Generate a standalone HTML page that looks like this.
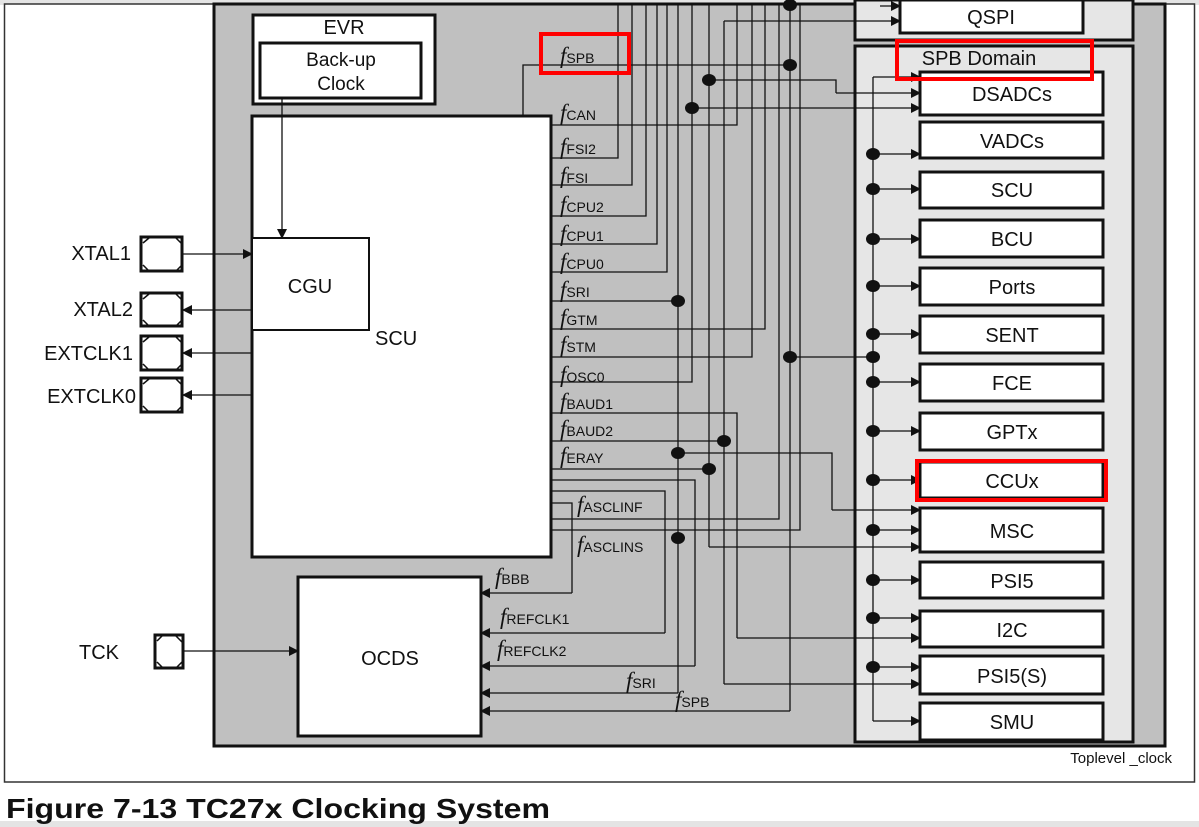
<!DOCTYPE html><html><head><meta charset="utf-8"><style>
html,body{margin:0;padding:0;background:#fff}
svg{display:block}
text{font-family:"Liberation Sans",sans-serif;fill:#111}
.f{font-family:"Liberation Serif",serif;font-style:italic;font-size:23px}
.s{font-size:14px}
</style></head><body>
<svg width="1199" height="827" viewBox="0 0 1199 827" xmlns="http://www.w3.org/2000/svg">
<defs><marker id="a" markerWidth="10" markerHeight="10" refX="9" refY="5" orient="auto" markerUnits="userSpaceOnUse"><path d="M0,0 L10,5 L0,10 z" fill="#111"/></marker></defs>
<rect x="0" y="0" width="1199" height="5" fill="#e4e4e4"/>
<rect x="0" y="821" width="1199" height="6" fill="#e4e4e4"/>
<rect x="4.5" y="4" width="1190" height="778" fill="#fff" stroke="#333" stroke-width="1.5"/>
<rect x="214" y="4" width="951" height="742" fill="#c0c0c0" stroke="#111" stroke-width="3"/>
<rect x="855" y="0" width="278" height="40" fill="#e6e6e6" stroke="#111" stroke-width="3"/>
<rect x="900" y="0" width="183" height="33" fill="#fff" stroke="#111" stroke-width="3"/>
<text x="991" y="24" font-size="20" text-anchor="middle">QSPI</text>
<rect x="855" y="46" width="278" height="696" fill="#e6e6e6" stroke="#111" stroke-width="3"/>
<text x="979" y="65" font-size="20" text-anchor="middle">SPB Domain</text>
<g stroke="#111" stroke-width="3" fill="#fff">
<rect x="920" y="72" width="183" height="43"/>
<rect x="920" y="122" width="183" height="36"/>
<rect x="920" y="172" width="183" height="36"/>
<rect x="920" y="220" width="183" height="37"/>
<rect x="920" y="268" width="183" height="37"/>
<rect x="920" y="316" width="183" height="37"/>
<rect x="920" y="364" width="183" height="37"/>
<rect x="920" y="413" width="183" height="37"/>
<rect x="920" y="462" width="183" height="36"/>
<rect x="920" y="508" width="183" height="44"/>
<rect x="920" y="562" width="183" height="36"/>
<rect x="920" y="611" width="183" height="36"/>
<rect x="920" y="656" width="183" height="38"/>
<rect x="920" y="703" width="183" height="37"/>
</g>
<g font-size="20" text-anchor="middle">
<text x="1012" y="101">DSADCs</text><text x="1012" y="148">VADCs</text><text x="1012" y="197">SCU</text>
<text x="1012" y="246">BCU</text><text x="1012" y="294">Ports</text><text x="1012" y="342">SENT</text>
<text x="1012" y="390">FCE</text><text x="1012" y="439">GPTx</text><text x="1012" y="488">CCUx</text>
<text x="1012" y="538">MSC</text><text x="1012" y="588">PSI5</text><text x="1012" y="637">I2C</text>
<text x="1012" y="683">PSI5(S)</text><text x="1012" y="729">SMU</text>
</g>
<rect x="253" y="15" width="182" height="89" fill="#fff" stroke="#111" stroke-width="3"/>
<text x="344" y="34" font-size="20" text-anchor="middle">EVR</text>
<rect x="260" y="43" width="161" height="55" fill="#fff" stroke="#111" stroke-width="3"/>
<text x="341" y="66" font-size="19" text-anchor="middle">Back-up</text>
<text x="341" y="90" font-size="19" text-anchor="middle">Clock</text>
<rect x="252" y="116" width="299" height="441" fill="#fff" stroke="#111" stroke-width="3"/>
<rect x="252" y="238" width="117" height="92" fill="#fff" stroke="#111" stroke-width="2"/>
<text x="310" y="293" font-size="20" text-anchor="middle">CGU</text>
<text x="375" y="345" font-size="20">SCU</text>
<rect x="298" y="577" width="183" height="159" fill="#fff" stroke="#111" stroke-width="3"/>
<text x="390" y="665" font-size="20" text-anchor="middle">OCDS</text>
<g stroke="#111" stroke-width="3" fill="#fff">
<rect x="141" y="237" width="41" height="34"/><rect x="141" y="293" width="41" height="33"/>
<rect x="141" y="336" width="41" height="34"/><rect x="141" y="378" width="41" height="34"/>
<rect x="155" y="635" width="28" height="33"/>
</g>
<g stroke="#111" stroke-width="1.5" fill="none">
<path d="M143 243l6-5 M176 238l6 6 M143 265l6 6 M176 271l6-6"/>
<path d="M143 299l6-5 M176 294l6 6 M143 320l6 6 M176 326l6-6"/>
<path d="M143 342l6-5 M176 337l6 6 M143 364l6 6 M176 370l6-6"/>
<path d="M143 384l6-5 M176 379l6 6 M143 406l6 6 M176 412l6-6"/>
<path d="M157 641l5-5 M176 636l6 6 M157 662l5 5 M176 668l6-6"/>
</g>
<g font-size="20" text-anchor="end">
<text x="131" y="260">XTAL1</text><text x="133" y="316">XTAL2</text><text x="133" y="360">EXTCLK1</text><text x="136" y="403">EXTCLK0</text><text x="119" y="659">TCK</text>
</g>
<g stroke="#111" stroke-width="1.3" fill="none">
<line x1="282" y1="98" x2="282" y2="238" marker-end="url(#a)"/>
<line x1="183" y1="254" x2="252" y2="254" marker-end="url(#a)"/>
<line x1="252" y1="310" x2="183" y2="310" marker-end="url(#a)"/>
<line x1="252" y1="353" x2="183" y2="353" marker-end="url(#a)"/>
<line x1="252" y1="395" x2="183" y2="395" marker-end="url(#a)"/>
<line x1="183" y1="651" x2="298" y2="651" marker-end="url(#a)"/>
<path d="M618 4V158H551 M632 4V185H551 M646 4V216H551 M657 4V244H551 M667 4V272H551 M678 4V693 M692 4V382H551 M709 4V547 M724 21V684 M737 4V125H551 M752 4V357H551 M765 4V329H551 M779 4V519H551 M790 4V711 M800 4V530H551"/>
<path d="M523 116V65H790 M709 80H836V93"/>
<path d="M551 301H678 M790 357H873 M551 413H737V638 M551 441H724 M678 453H832V510 M551 469H709"/>
<path d="M551 480H695V666 M551 491H665V633 M551 503H572V593"/>
<path d="M873 77V721"/>
</g>
<g stroke="#111" stroke-width="1.3" fill="none" marker-end="url(#a)">
<line x1="836" y1="93" x2="920" y2="93"/><line x1="692" y1="108" x2="920" y2="108"/>
<line x1="873" y1="77" x2="920" y2="77"/>
<line x1="724" y1="21" x2="900" y2="21"/><line x1="880" y1="6" x2="900" y2="6"/>
<line x1="832" y1="510" x2="920" y2="510"/><line x1="709" y1="547" x2="920" y2="547"/>
<line x1="737" y1="638" x2="920" y2="638"/><line x1="724" y1="684" x2="920" y2="684"/>
<line x1="873" y1="721" x2="920" y2="721"/>
<line x1="873" y1="154" x2="920" y2="154"/><line x1="873" y1="189" x2="920" y2="189"/>
<line x1="873" y1="239" x2="920" y2="239"/><line x1="873" y1="286" x2="920" y2="286"/>
<line x1="873" y1="334" x2="920" y2="334"/><line x1="873" y1="382" x2="920" y2="382"/>
<line x1="873" y1="431" x2="920" y2="431"/><line x1="873" y1="480" x2="920" y2="480"/>
<line x1="873" y1="530" x2="920" y2="530"/><line x1="873" y1="580" x2="920" y2="580"/>
<line x1="873" y1="618" x2="920" y2="618"/><line x1="873" y1="667" x2="920" y2="667"/>
<line x1="695" y1="666" x2="481" y2="666"/><line x1="665" y1="633" x2="481" y2="633"/>
<line x1="572" y1="593" x2="481" y2="593"/><line x1="678" y1="693" x2="481" y2="693"/>
<line x1="790" y1="711" x2="481" y2="711"/>
</g>
<g fill="#111">
<ellipse cx="790" cy="5" rx="7" ry="6"/><ellipse cx="790" cy="65" rx="7" ry="6"/>
<ellipse cx="709" cy="80" rx="7" ry="6"/><ellipse cx="692" cy="108" rx="7" ry="6"/>
<ellipse cx="678" cy="301" rx="7" ry="6"/><ellipse cx="790" cy="357" rx="7" ry="6"/>
<ellipse cx="724" cy="441" rx="7" ry="6"/><ellipse cx="678" cy="453" rx="7" ry="6"/>
<ellipse cx="709" cy="469" rx="7" ry="6"/><ellipse cx="678" cy="538" rx="7" ry="6"/>
<ellipse cx="873" cy="154" rx="7" ry="6"/><ellipse cx="873" cy="189" rx="7" ry="6"/>
<ellipse cx="873" cy="239" rx="7" ry="6"/><ellipse cx="873" cy="286" rx="7" ry="6"/>
<ellipse cx="873" cy="334" rx="7" ry="6"/><ellipse cx="873" cy="357" rx="7" ry="6"/>
<ellipse cx="873" cy="382" rx="7" ry="6"/><ellipse cx="873" cy="431" rx="7" ry="6"/>
<ellipse cx="873" cy="480" rx="7" ry="6"/><ellipse cx="873" cy="530" rx="7" ry="6"/>
<ellipse cx="873" cy="580" rx="7" ry="6"/><ellipse cx="873" cy="618" rx="7" ry="6"/>
<ellipse cx="873" cy="667" rx="7" ry="6"/>
</g>
<g>
<text x="560" y="63"><tspan class="f">f</tspan><tspan class="s">SPB</tspan></text>
<text x="560" y="120"><tspan class="f">f</tspan><tspan class="s">CAN</tspan></text>
<text x="560" y="154"><tspan class="f">f</tspan><tspan class="s">FSI2</tspan></text>
<text x="560" y="183"><tspan class="f">f</tspan><tspan class="s">FSI</tspan></text>
<text x="560" y="212"><tspan class="f">f</tspan><tspan class="s">CPU2</tspan></text>
<text x="560" y="241"><tspan class="f">f</tspan><tspan class="s">CPU1</tspan></text>
<text x="560" y="269"><tspan class="f">f</tspan><tspan class="s">CPU0</tspan></text>
<text x="560" y="297"><tspan class="f">f</tspan><tspan class="s">SRI</tspan></text>
<text x="560" y="325"><tspan class="f">f</tspan><tspan class="s">GTM</tspan></text>
<text x="560" y="352"><tspan class="f">f</tspan><tspan class="s">STM</tspan></text>
<text x="560" y="382"><tspan class="f">f</tspan><tspan class="s">OSC0</tspan></text>
<text x="560" y="409"><tspan class="f">f</tspan><tspan class="s">BAUD1</tspan></text>
<text x="560" y="436"><tspan class="f">f</tspan><tspan class="s">BAUD2</tspan></text>
<text x="560" y="463"><tspan class="f">f</tspan><tspan class="s">ERAY</tspan></text>
<text x="577" y="512"><tspan class="f">f</tspan><tspan class="s">ASCLINF</tspan></text>
<text x="577" y="552"><tspan class="f">f</tspan><tspan class="s">ASCLINS</tspan></text>
<text x="495" y="584"><tspan class="f">f</tspan><tspan class="s">BBB</tspan></text>
<text x="500" y="624"><tspan class="f">f</tspan><tspan class="s">REFCLK1</tspan></text>
<text x="497" y="656"><tspan class="f">f</tspan><tspan class="s">REFCLK2</tspan></text>
<text x="626" y="688"><tspan class="f">f</tspan><tspan class="s">SRI</tspan></text>
<text x="675" y="707"><tspan class="f">f</tspan><tspan class="s">SPB</tspan></text>
</g>
<text x="1172" y="763" font-size="15" text-anchor="end">Toplevel _clock</text>
<text x="6" y="818" font-size="28" font-weight="bold" textLength="544" lengthAdjust="spacingAndGlyphs">Figure 7-13   TC27x Clocking System</text>
<g fill="none" stroke="#f00" stroke-width="4">
<rect x="541" y="34" width="88" height="39"/>
<rect x="897" y="41" width="195" height="38"/>
<rect x="917" y="461" width="189" height="39"/>
</g>
</svg>
</body></html>
